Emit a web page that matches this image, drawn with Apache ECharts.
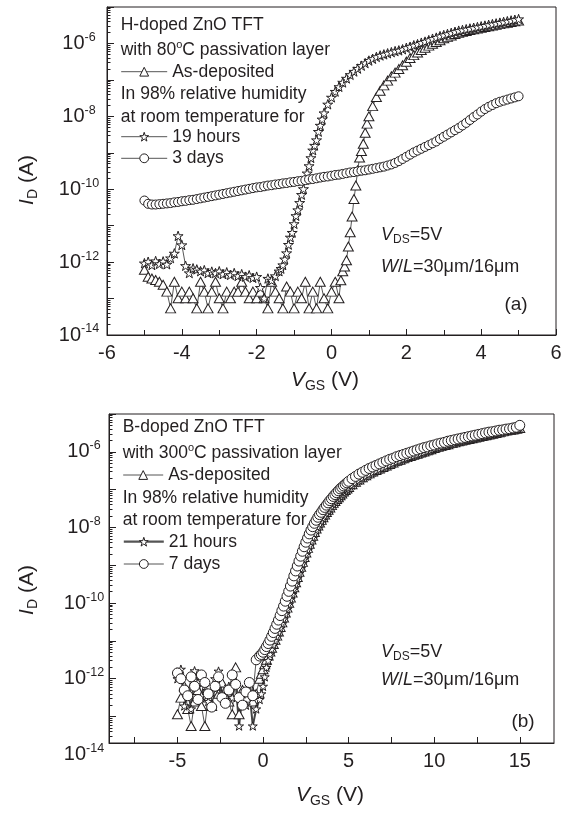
<!DOCTYPE html>
<html><head><meta charset="utf-8">
<script src="https://cdn.jsdelivr.net/npm/echarts@6.0.0/dist/echarts.min.js"></script>
<style>html,body{margin:0;padding:0;background:#fff}#c{width:566px;height:814px}</style>
</head><body><div id="c"></div>
<script>
const FONT = '"Liberation Sans", Arial, Helvetica, sans-serif';
const INK = '#231f20';
function seq(a, b, step) { const n = Math.round((b - a) / step); const o = []; for (let i = 0; i <= n; i++) o.push(+(a + i * step).toFixed(2)); return o; }

// ---------- Panel (a): H-doped ZnO TFT, log10(I_D / A) ----------
const vgsA_asDep = seq(-5, 0.2, 0.1).concat(seq(0.25, 1.0, 0.05), seq(1.1, 5, 0.1));
const logIdA_asDep = [
  -12.21,-12.40,-12.45,-12.49,-12.54,-12.62,-12.81,-13.27,-12.54,-12.99,
  -12.81,-12.99,-12.81,-12.99,-13.27,-12.54,-12.81,-13.27,-12.81,-12.54,
  -12.99,-13.27,-12.81,-12.99,-12.81,-12.81,-12.54,-12.81,-12.99,-12.81,
  -12.99,-12.81,-12.99,-13.27,-12.54,-12.81,-12.99,-13.27,-12.67,-12.81,
  -13.27,-12.81,-12.99,-12.54,-13.27,-12.81,-13.27,-12.54,-12.99,-13.27,
  -12.81,-12.54,-12.99,
  -12.5,-12.25,-12.12,-11.95,-11.57,-11.18,-10.75,-10.27,-9.9,-9.48,-9.13,-8.95,-8.75,-8.45,-8.2,-8.0,
  -7.72,-7.47,-7.3,-7.15,-7.02,-6.9,-6.8,-6.7,-6.6,
  -6.5,-6.4,-6.32,-6.25,-6.18,-6.12,-6.06,-6.01,-5.96,-5.91,
  -5.86,-5.82,-5.78,-5.74,-5.71,-5.68,-5.66,-5.63,-5.61,-5.59,
  -5.57,-5.55,-5.53,-5.51,-5.49,-5.47,-5.45,-5.43,-5.41,-5.39,
  -5.37
];
const vgsA_19h = seq(-5, -1.4, 0.1).concat(seq(-1.35, -0.25, 0.05), seq(-0.2, 5, 0.1));
const logIdA_19h = [
  -12.03,-11.99,-12.08,-11.97,-12.05,-11.98,-12.06,-11.89,-11.76,-11.28,
  -11.53,-12.1,-12.3,-12.17,-12.2,-12.25,-12.22,-12.3,-12.26,-12.3,
  -12.25,-12.33,-12.28,-12.35,-12.3,-12.38,-12.33,-12.4,-12.36,-12.43,
  -12.4,-12.7,-12.99,-12.45,-12.5,-12.38,-12.25,
  -12.18,-12.08,-11.92,-11.75,-11.52,-11.32,-11.19,-10.95,-10.73,-10.57,
  -10.37,-10.15,-9.99,-9.74,-9.56,-9.36,-9.14,-8.93,-8.8,-8.65,-8.42,-8.25,-8.08,
  -7.91,-7.67,-7.48,-7.32,-7.19,-7.07,-6.96,-6.86,-6.77,-6.69,
  -6.61,-6.54,-6.47,-6.42,-6.37,-6.33,-6.3,-6.27,-6.24,-6.21,
  -6.19,-6.16,-6.12,-6.09,-6.05,-6.02,-5.98,-5.95,-5.91,-5.87,
  -5.84,-5.8,-5.77,-5.74,-5.71,-5.68,-5.65,-5.63,-5.61,-5.59,
  -5.57,-5.55,-5.53,-5.51,-5.49,-5.47,-5.45,-5.43,-5.41,-5.39,
  -5.37,-5.35,-5.33
];
const vgsA_3d = seq(-5, 5, 0.1);
const logIdA_3d = [
  -10.31,-10.40,-10.42,-10.42,-10.41,-10.40,-10.39,-10.38,-10.36,-10.35,
  -10.33,-10.32,-10.30,-10.29,-10.27,-10.25,-10.23,-10.21,-10.19,-10.17,
  -10.15,-10.13,-10.11,-10.09,-10.07,-10.05,-10.03,-10.01,-9.99,-9.97,
  -9.95,-9.94,-9.92,-9.90,-9.89,-9.87,-9.86,-9.84,-9.83,-9.81,
  -9.80,-9.78,-9.77,-9.75,-9.73,-9.72,-9.70,-9.68,-9.66,-9.65,
  -9.63,-9.61,-9.60,-9.58,-9.56,-9.54,-9.53,-9.51,-9.49,-9.48,
  -9.46,-9.44,-9.42,-9.40,-9.38,-9.35,-9.32,-9.28,-9.23,-9.17,
  -9.11,-9.05,-8.99,-8.94,-8.89,-8.84,-8.79,-8.74,-8.69,-8.62,
  -8.56,-8.5,-8.44,-8.38,-8.32,-8.25,-8.18,-8.1,-8.02,-7.95,
  -7.87,-7.8,-7.74,-7.69,-7.64,-7.6,-7.57,-7.54,-7.51,-7.48,
  -7.45
];

// ---------- Panel (b): B-doped ZnO TFT, log10(I_D / A) ----------
const vgsB = seq(-5, -0.2, 0.2).concat(seq(-0.1, 5, 0.1), seq(5.2, 15, 0.2));
const logIdB_asDep = [
  -12.94,-12.5,-12.2,-12.8,-13.25,-12.6,-12.3,-12.72,-13.25,-12.5,-12.72,-12.2,
  -12.4,-12.1,-12.45,-12.6,-12.94,-11.7,-12.94,-12.3,-12.5,-12.2,-12.6,-12.4,-12.0,
  -11.87,-11.75,-11.62,-11.5,-11.39,-11.28,-11.18,-11.08,-10.97,-10.86,
  -10.75,-10.63,-10.51,-10.38,-10.25,-10.12,-9.99,-9.85,-9.72,-9.58,
  -9.45,-9.31,-9.17,-9.04,-8.91,-8.78,-8.66,-8.54,-8.43,-8.32,
  -8.22,-8.12,-8.03,-7.95,-7.87,-7.8,-7.73,-7.66,-7.59,-7.53,
  -7.47,-7.41,-7.35,-7.3,-7.25,-7.2,-7.15,-7.1,-7.05,-7.01,
  -6.97,-6.93,
  -6.86,-6.79,-6.73,-6.67,-6.62,-6.57,-6.52,-6.48,-6.44,-6.4,
  -6.36,-6.32,-6.28,-6.24,-6.21,-6.17,-6.14,-6.11,-6.08,-6.05,
  -6.02,-5.99,-5.96,-5.93,-5.9,-5.87,-5.85,-5.82,-5.8,-5.77,
  -5.75,-5.72,-5.7,-5.68,-5.66,-5.64,-5.62,-5.6,-5.58,-5.56,
  -5.54,-5.52,-5.5,-5.48,-5.46,-5.44,-5.42,-5.41,-5.39,-5.37
];
const logIdB_21h = [
  -12.0,-11.75,-12.72,-12.3,-12.8,-11.79,-12.1,-12.45,-12.2,-12.6,-12.35,-12.0,
  -11.8,-12.4,-12.55,-12.2,-12.5,-12.1,-13.25,-12.4,-12.7,-12.3,-13.25,-12.8,-12.55,
  -12.4,-12.2,-11.95,-11.7,-11.52,-11.35,-11.22,-11.1,-10.99,-10.88,
  -10.77,-10.66,-10.54,-10.42,-10.29,-10.16,-10.03,-9.9,-9.77,-9.63,
  -9.5,-9.36,-9.22,-9.09,-8.96,-8.83,-8.71,-8.59,-8.48,-8.37,
  -8.26,-8.16,-8.07,-7.98,-7.9,-7.82,-7.75,-7.68,-7.61,-7.55,
  -7.49,-7.43,-7.37,-7.32,-7.27,-7.22,-7.17,-7.12,-7.07,-7.03,
  -6.99,-6.95,
  -6.88,-6.81,-6.75,-6.69,-6.64,-6.59,-6.54,-6.5,-6.46,-6.42,
  -6.38,-6.34,-6.3,-6.26,-6.23,-6.19,-6.16,-6.13,-6.1,-6.07,
  -6.04,-6.01,-5.98,-5.95,-5.92,-5.89,-5.87,-5.84,-5.82,-5.79,
  -5.77,-5.74,-5.72,-5.7,-5.68,-5.66,-5.64,-5.62,-5.6,-5.58,
  -5.56,-5.54,-5.52,-5.5,-5.48,-5.46,-5.44,-5.43,-5.41,-5.39
];
const logIdB_7d = [
  -11.85,-12.0,-12.3,-12.45,-11.95,-12.2,-12.55,-11.9,-12.1,-12.4,-12.75,-12.2,
  -11.95,-12.5,-12.65,-12.3,-11.9,-12.15,-12.5,-12.7,-12.35,-12.1,-12.45,-11.5,-11.4,
  -11.36,-11.3,-11.23,-11.15,-11.07,-10.98,-10.88,-10.78,-10.67,-10.56,
  -10.45,-10.33,-10.2,-10.08,-9.95,-9.82,-9.69,-9.55,-9.42,-9.28,
  -9.15,-9.02,-8.89,-8.76,-8.63,-8.51,-8.39,-8.28,-8.17,-8.07,
  -7.98,-7.89,-7.81,-7.73,-7.66,-7.6,-7.53,-7.47,-7.41,-7.35,
  -7.29,-7.24,-7.18,-7.13,-7.08,-7.03,-6.98,-6.94,-6.9,-6.86,
  -6.82,-6.78,
  -6.71,-6.65,-6.59,-6.54,-6.49,-6.44,-6.4,-6.36,-6.32,-6.28,
  -6.24,-6.2,-6.17,-6.13,-6.1,-6.07,-6.04,-6.01,-5.98,-5.95,
  -5.92,-5.89,-5.87,-5.84,-5.82,-5.79,-5.77,-5.75,-5.72,-5.7,
  -5.68,-5.66,-5.64,-5.62,-5.6,-5.58,-5.56,-5.54,-5.52,-5.5,
  -5.48,-5.47,-5.45,-5.43,-5.42,-5.4,-5.39,-5.37,-5.35,-5.3
];

// ---------- axis ticks / labels ----------
const yLabelExps = [-14, -12, -10, -8, -6];
const xLabelsB = [-5, 0, 5, 10, 15];
const xTicksB = [-7.5, -5, -2.5, 0, 2.5, 5, 7.5, 10, 12.5, 15];
function minorLogTicks(lo, hi) { const o = []; for (let n = Math.floor(lo); n < hi; n++) for (let k = 2; k <= 9; k++) { const v = n + Math.log10(k); if (v > lo + 0.01 && v < hi - 0.01) o.push(v); } return o; }

function pts(xs, ls) { return xs.map((x, i) => [x, Math.pow(10, ls[i])]); }

const STAR = 'path://M50,0 L61.8,35.3 L97.6,34.5 L68.5,56.3 L79.4,90.5 L50,69.5 L20.6,90.5 L31.5,56.3 L2.4,34.5 L38.2,35.3 Z';

function ser(name, xi, yi, data, symbol, size, lw) {
  return {
    type: 'line', name, xAxisIndex: xi, yAxisIndex: yi, data, symbol, symbolSize: size,
    symbolKeepAspect: true, showAllSymbol: true, silent: true, animation: false,
    itemStyle: { color: '#ffffff', borderColor: INK, borderWidth: 1 },
    lineStyle: { color: '#444', width: lw || 0.9 },
    emphasis: { disabled: true }
  };
}

function yLabelFmt(v) {
  const e = Math.log10(v); const r = Math.round(e);
  if (Math.abs(e - r) > 1e-6 || yLabelExps.indexOf(r) < 0) return '';
  return '{b|10}{s|' + r + '}';
}
const yRich = {
  b: { fontSize: 20, fontFamily: FONT, color: INK },
  s: { fontSize: 12.5, fontFamily: FONT, color: INK, padding: [0, 0, 12, 0] }
};

function legItem(name, lw) {
  return { name, itemStyle: { color: '#ffffff', borderColor: INK, borderWidth: 1 }, lineStyle: { color: '#555', width: lw || 1 } };
}
function legend(items, left, top, w, gap) {
  return {
    data: items, orient: 'vertical', left, top, itemWidth: w, itemHeight: 11, itemGap: gap,
    padding: 0, selectedMode: false,
    itemStyle: { color: '#ffffff', borderColor: INK, borderWidth: 1 },
    lineStyle: { color: '#555', width: 1 },
    textStyle: { fontSize: 17.5, fontFamily: FONT, color: INK, lineHeight: 20 }
  };
}

function T(id, x, y, text, size, extra) {
  const el = {
    type: 'text', id, x, y, silent: true, z: 50,
    style: {
      text, fontSize: size, fontFamily: FONT, fill: INK, align: 'left', verticalAlign: 'middle',
      rich: {
        i: { fontStyle: 'italic', fontSize: size, fontFamily: FONT, fill: INK },
        sub: { fontSize: Math.round(size * 0.68), fontFamily: FONT, fill: INK, padding: [Math.round(size * 0.55), 0, 0, 0] },
        sup: { fontSize: Math.round(size * 0.65), fontFamily: FONT, fill: INK, padding: [0, 0, Math.round(size * 0.55), 0] }
      }
    }
  };
  if (extra) { if (extra.align) el.style.align = extra.align; if (extra.rotation) el.rotation = extra.rotation; }
  return el;
}

const graphics = [
  T('a1', 120.7, 25, 'H-doped ZnO TFT', 17.5),
  T('a2', 120.7, 50, 'with 80{sup|o}C passivation layer', 17.5),
  T('a3', 120.7, 94.3, 'In 98% relative humidity', 17.5),
  T('a4', 120.7, 116.7, 'at room temperature for', 17.5),
  T('a5', 381, 235, '{i|V}{sub|DS}=5V', 18),
  T('a6', 381, 267, '{i|W}/{i|L}=30\u03bcm/16\u03bcm', 18),
  T('a7', 516, 305, '(a)', 19, { align: 'center' }),
  T('a8', 27, 180, '{i|I}{sub|D} (A)', 21, { align: 'center', rotation: Math.PI / 2 }),
  T('a9', 325, 380, '{i|V}{sub|GS} (V)', 21, { align: 'center' }),
  T('b1', 122.7, 426.7, 'B-doped ZnO TFT', 17.5),
  T('b2', 122.7, 453.3, 'with 300{sup|o}C passivation layer', 17.5),
  T('b3', 122.7, 498.3, 'In 98% relative humidity', 17.5),
  T('b4', 122.7, 520, 'at room temperature for', 17.5),
  T('b5', 381, 652, '{i|V}{sub|DS}=5V', 18),
  T('b6', 381, 680, '{i|W}/{i|L}=30\u03bcm/16\u03bcm', 18),
  T('b7', 523, 722, '(b)', 19, { align: 'center' }),
  T('b8', 27, 590, '{i|I}{sub|D} (A)', 21, { align: 'center', rotation: Math.PI / 2 }),
  T('b9', 330, 795, '{i|V}{sub|GS} (V)', 21, { align: 'center' })
];

const axLine = { show: true, onZero: false, lineStyle: { color: INK, width: 1 } };
const noLine = { show: false, onZero: false };
const axLab = { fontSize: 20, fontFamily: FONT, color: INK, margin: 8 };

const option = {
  animation: false,
  backgroundColor: '#ffffff',
  grid: [
    { left: 107, top: 7, width: 449, height: 328, show: true, borderColor: INK, borderWidth: 1, backgroundColor: 'transparent' },
    { left: 109, top: 414, width: 445, height: 329, show: true, borderColor: INK, borderWidth: 1, backgroundColor: 'transparent' }
  ],
  xAxis: [
    { gridIndex: 0, type: 'value', min: -6, max: 6, interval: 2, position: 'bottom', axisLine: axLine,
      axisTick: { inside: true, length: 6, lineStyle: { color: INK } },
      minorTick: { show: true, splitNumber: 2, length: 5, lineStyle: { color: INK } },
      axisLabel: axLab, splitLine: { show: false } },
    { gridIndex: 1, type: 'value', min: -9, max: 17, position: 'bottom', axisLine: axLine,
      axisTick: { inside: true, length: 6, lineStyle: { color: INK }, customValues: xTicksB },
      axisLabel: Object.assign({ customValues: xLabelsB }, axLab), splitLine: { show: false } }
  ],
  yAxis: [
    { gridIndex: 0, type: 'log', logBase: 10, min: 1e-14, max: 1e-5, splitNumber: 9, position: 'left',
      axisLine: axLine, axisTick: { inside: true, length: 7, lineStyle: { color: INK } },
      axisLabel: { formatter: yLabelFmt, rich: yRich, align: 'center', margin: 28 }, splitLine: { show: false } },
    { gridIndex: 0, type: 'value', min: -14, max: -5, position: 'left', axisLine: noLine,
      axisTick: { show: true, inside: true, length: 3.5, lineStyle: { color: INK }, customValues: minorLogTicks(-14, -5) },
      axisLabel: { show: false }, splitLine: { show: false } },
    { gridIndex: 1, type: 'log', logBase: 10, min: Math.pow(10, -13.7), max: 1e-5, splitNumber: 9, position: 'left',
      axisLine: axLine, axisTick: { inside: true, length: 7, lineStyle: { color: INK } },
      axisLabel: { formatter: yLabelFmt, rich: yRich, align: 'center', margin: 25 }, splitLine: { show: false } },
    { gridIndex: 1, type: 'value', min: -13.7, max: -5, position: 'left', axisLine: noLine,
      axisTick: { show: true, inside: true, length: 3.5, lineStyle: { color: INK }, customValues: minorLogTicks(-13.7, -5) },
      axisLabel: { show: false }, splitLine: { show: false } }
  ],
  legend: [
    legend([legItem('As-deposited')], 120.7, 61.7, 46, 2),
    legend([legItem('19 hours'), legItem('3 days')], 120.7, 126.7, 46, 1.6),
    legend([legItem('As-deposited')], 122.7, 465, 40, 2),
    legend([legItem('21 hours', 2.2), legItem('7 days')], 122.7, 531.7, 40, 2.3)
  ],
  series: [
    ser('As-deposited', 0, 0, pts(vgsA_asDep, logIdA_asDep), 'triangle', [10, 9]),
    ser('19 hours', 0, 0, pts(vgsA_19h, logIdA_19h), STAR, 10),
    ser('3 days', 0, 0, pts(vgsA_3d, logIdA_3d), 'circle', 9),
    ser('As-deposited', 1, 2, pts(vgsB, logIdB_asDep), 'triangle', [10, 9]),
    ser('21 hours', 1, 2, pts(vgsB, logIdB_21h), STAR, 9, 2),
    ser('7 days', 1, 2, pts(vgsB, logIdB_7d), 'circle', 10)
  ],
  graphic: { elements: graphics }
};

const chart = echarts.init(document.getElementById('c'), null, { renderer: 'canvas' });
chart.setOption(option);
// "10^-14" label of panel (b) sits just below that panel's axis range
const y14 = chart.convertToPixel({ yAxisIndex: 2 }, 1e-14);
const lab14 = T('b10', 84, y14, '10{sup|-14}', 20, { align: 'center' });
lab14.style.rich.sup = { fontSize: 12.5, fontFamily: FONT, fill: INK, padding: [0, 0, 12, 0] };
option.graphic = { elements: graphics.concat([lab14]) };
chart.setOption(option, true);
</script></body></html>
